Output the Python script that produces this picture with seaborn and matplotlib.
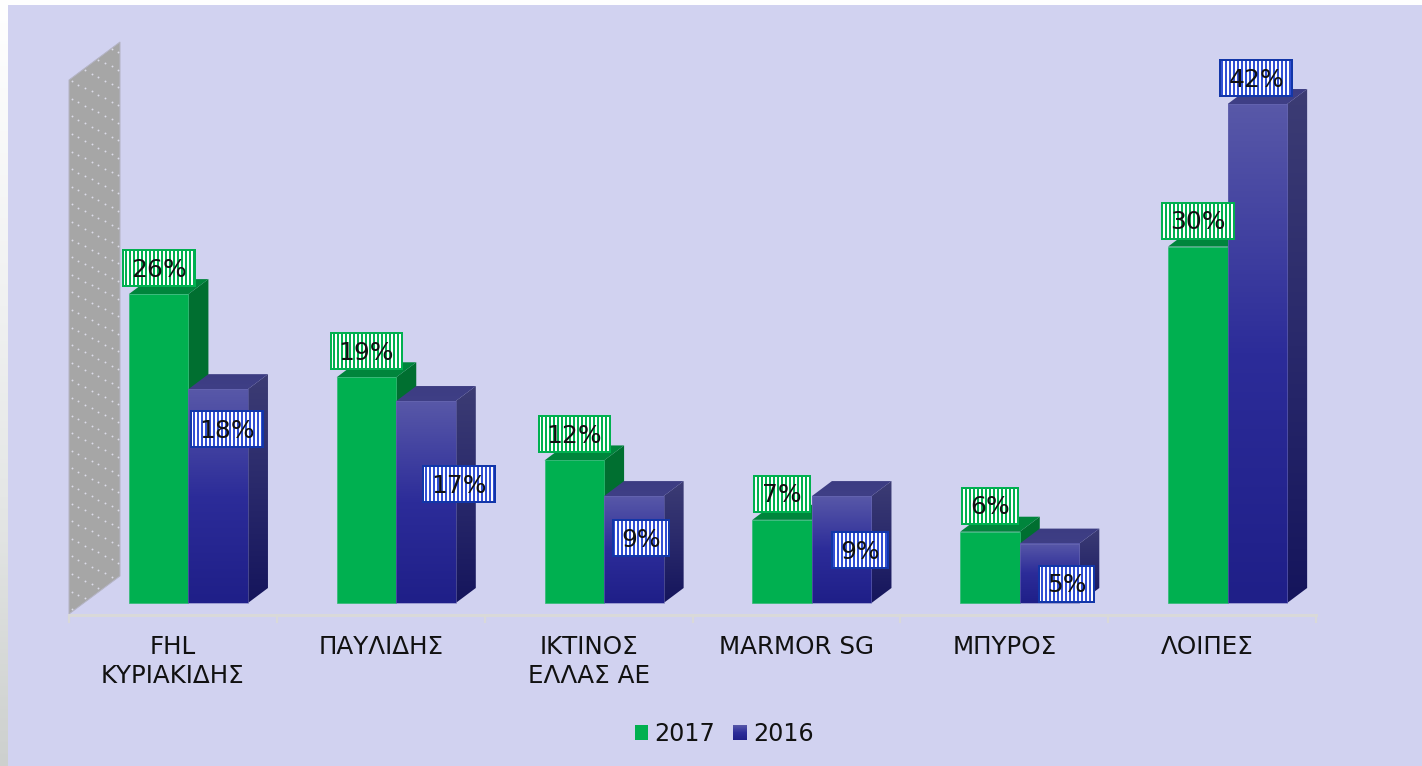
import numpy as np
import pandas as pd
import matplotlib
matplotlib.use("Agg")
import matplotlib.pyplot as plt
import seaborn as sns
from matplotlib.colors import LinearSegmentedColormap
from matplotlib.path import Path
from matplotlib.patches import Polygon, Rectangle
from matplotlib.transforms import ScaledTranslation

categories = ["FHL\nΚΥΡΙΑΚΙΔΗΣ", "ΠΑΥΛΙΔΗΣ", "ΙΚΤΙΝΟΣ\nΕΛΛΑΣ ΑΕ", "MARMOR SG", "ΜΠΥΡΟΣ", "ΛΟΙΠΕΣ"]
values_2017 = [26, 19, 12, 7, 6, 30]
values_2016 = [18, 17, 9, 9, 5, 42]
series_names = ["2017", "2016"]

# label placement relative to the default spot above each bar (pixels)
blue_label_dx = [9, 33, 7, 18, 17, -1]
blue_label_dy = [-66, -109, -68, -80, -66, 0]

W, H, DPI = 1422, 766, 96


def pt(px):
    return px * 72 / DPI


LAV = "#D1D2F0"
GREEN, GREEN_TOP, GREEN_SIDE = "#00B050", "#00853C", "#006F30"

sns.set_theme(style="white")
plt.rcParams["font.family"] = ["DejaVu Sans"]
plt.rcParams["hatch.linewidth"] = pt(2)
fig = plt.figure(figsize=((W + 0.01) / DPI, (H + 0.01) / DPI), dpi=DPI)

# page backdrop
bg = fig.add_axes([0, 0, 1, 1], zorder=-10)
bg.set_xlim(0, W); bg.set_ylim(H, 0); bg.axis("off")
strip = LinearSegmentedColormap.from_list("s", [(0, "#FFFFFF"), (0.4, "#F0F1F1"), (0.65, "#E5E7E6"), (1, "#CDD0CE")])
bg.imshow(np.linspace(0, 1, 256)[:, None], cmap=strip, extent=[0, W, H, 0], aspect="auto")
bg.add_patch(Rectangle((8, 5), W - 8, H - 5, fc=LAV, ec="none"))

X0, X1, YBASE, YAXIS, YTOP = 69, 1316, 603, 615, 42
PXX = (X1 - X0) / 6
PXY = 11.88
ax = fig.add_axes([X0 / W, 1 - YAXIS / H, (X1 - X0) / W, (YAXIS - YTOP) / H])
ax.patch.set_alpha(0)


def xv(p):
    return -0.5 + (p - X0) / PXX


def yv(p):
    return (YBASE - p) / PXY


df = pd.DataFrame({
    "cat": categories * 2,
    "series": [series_names[0]] * 6 + [series_names[1]] * 6,
    "value": values_2017 + values_2016,
})
sns.barplot(data=df, x="cat", y="value", hue="series", hue_order=series_names,
            palette=[GREEN, "#2A2A96"], width=0.573, gap=0, saturation=1, ax=ax, legend=True)

SHIFT = 15.5 / PXX
DX, DY = 20 / PXX, 15 / PXY
cm_front = LinearSegmentedColormap.from_list("f", [(0, "#5858A8"), (0.5, "#2C2C99"), (1, "#1F1F88")])
cm_side = LinearSegmentedColormap.from_list("b", [(0, "#3C3C74"), (0.5, "#29296B"), (1, "#15155C")])
cm_top = LinearSegmentedColormap.from_list("t", ["#3C3C82", "#3F3F86"])
grad = np.linspace(0, 1, 128)[:, None]


def face(verts, cmap, z):
    xs, ys = zip(*verts)
    poly = Polygon(verts, closed=True, fc="none", ec="none", zorder=z + 0.01)
    ax.add_patch(poly)
    im = ax.imshow(grad, cmap=cmap, extent=[min(xs), max(xs), min(ys), max(ys)],
                   origin="upper", aspect="auto", zorder=z, interpolation="bilinear")
    im.set_clip_path(poly)


bars = [p for p in ax.patches if abs(p.get_height()) > 0]
greens, blues = bars[:6], bars[6:12]
for p in greens + blues:
    p.set_x(p.get_x() + SHIFT)

for p in greens:
    x, w, h = p.get_x(), p.get_width(), p.get_height()
    p.set_zorder(2.2); p.set_edgecolor("#2FBB73"); p.set_linewidth(pt(0.7))
    ax.add_patch(Polygon([(x + w, 0), (x + w + DX, DY), (x + w + DX, h + DY), (x + w, h)], fc=GREEN_SIDE, ec="none", zorder=2.1))
    ax.add_patch(Polygon([(x, h), (x + w, h), (x + w + DX, h + DY), (x + DX, h + DY)], fc=GREEN_TOP, ec="none", zorder=2.1))

for p in blues:
    x, w, h = p.get_x(), p.get_width(), p.get_height()
    p.set_facecolor("none"); p.set_edgecolor("#6C6CB4"); p.set_linewidth(pt(0.55)); p.set_zorder(3.4)
    face([(x + w, 0), (x + w + DX, DY), (x + w + DX, h + DY), (x + w, h)], cm_side, 3.0)
    face([(x, h), (x + w, h), (x + w + DX, h + DY), (x + DX, h + DY)], cm_top, 3.1)
    ax.imshow(grad, cmap=cm_front, extent=[x, x + w, 0, h], origin="upper",
              aspect="auto", zorder=3.3, interpolation="bilinear")

# back wall
wall = Polygon([(xv(69), yv(614)), (xv(120), yv(576)), (xv(120), yv(42)), (xv(69), yv(80))],
               closed=True, fc="#A6A6A6", ec="#B4B4C4", lw=pt(1), zorder=1, clip_on=False)
ax.add_patch(wall)
dot_x, dot_y = [], []
for k in range(9):
    for j in range(34):
        dot_x.append(xv(71.5 + 6.67 * k))
        dot_y.append(yv(46 + 17.6 * j + ((3.4 * k) % 17.6)))
dots = ax.scatter(dot_x, dot_y, s=pt(1.9) ** 2, c="#DCDCE8", linewidths=0, zorder=1.1)
dots.set_clip_path(wall)


# value labels: box with a fixed height and a width that follows the text
def label_box(x0, y0, w, h, mutation_size):
    pad_x, half_h = 8.0, 18.0
    yc = y0 + h / 2 + 1.5
    return Path([(x0 - pad_x, yc - half_h), (x0 + w + pad_x, yc - half_h),
                 (x0 + w + pad_x, yc + half_h), (x0 - pad_x, yc + half_h),
                 (x0 - pad_x, yc - half_h)], closed=True)


def add_label(p, value, color, dx=0, dy=0, border=None):
    xy = (p.get_x() + p.get_width() / 2, p.get_height())
    common = dict(xytext=(dx, 24.5 + dy), textcoords="offset pixels", ha="center", va="center",
                  fontsize=pt(25), annotation_clip=False)
    ax.annotate(f"{value}%", xy, color="#111111", zorder=5, **common,
                bbox=dict(boxstyle=label_box, fc="white", ec=color, lw=pt(2), hatch="||||"))
    if border:
        ax.annotate(f"{value}%", xy, color="none", zorder=5.1, **common,
                    bbox=dict(boxstyle=label_box, fc="none", ec=border, lw=pt(2)))


for p, v in zip(greens, values_2017):
    add_label(p, v, GREEN)
for p, v, dx, dy in zip(blues, values_2016, blue_label_dx, blue_label_dy):
    add_label(p, v, "#3250D4", dx, dy, border="#1236A8")

# axes
ax.set_xlim(-0.5, 5.5)
ax.set_ylim(yv(YAXIS), yv(YTOP))
ax.set_xlabel(""); ax.set_ylabel("")
ax.set_yticks([])
for s in ["top", "left", "right"]:
    ax.spines[s].set_visible(False)
ax.spines["bottom"].set_color("#D9D9D9")
ax.spines["bottom"].set_linewidth(pt(3))
ax.set_xticks(range(6), categories, fontsize=pt(24.6), color="#111111")
ax.set_xticks(np.arange(-0.5, 6, 1), minor=True)
ax.tick_params(axis="x", which="major", length=0, pad=pt(19.5), labelcolor="#111111")
ax.tick_params(axis="x", which="minor", bottom=True, length=pt(8), width=pt(2.2), color="#D9D9D9", direction="out")
for t in ax.get_xticklabels():
    t.set_linespacing(1.27)
lab = ax.get_xticklabels()[5]
lab.set_transform(lab.get_transform() + ScaledTranslation(-5 / DPI, 0, fig.dpi_scale_trans))

# legend
handles, labels = ax.get_legend_handles_labels()
leg = ax.legend(handles, labels, ncol=2, frameon=False, fontsize=pt(23.9), loc="center",
                bbox_to_anchor=(724 / W, 1 - 734 / H), bbox_transform=fig.transFigure,
                handlelength=0.58, handleheight=0.58, handletextpad=0.25, columnspacing=0.75,
                labelcolor="#111111")
for h in leg.legend_handles:
    h.set_edgecolor("none")
fig.canvas.draw()
hb = leg.legend_handles[1].get_window_extent()
lax = fig.add_axes([hb.x0 / W, hb.y0 / H, hb.width / W, hb.height / H], zorder=6)
lax.imshow(grad, cmap=cm_front, aspect="auto")
lax.axis("off")

fig.savefig("out.png", dpi=DPI)
